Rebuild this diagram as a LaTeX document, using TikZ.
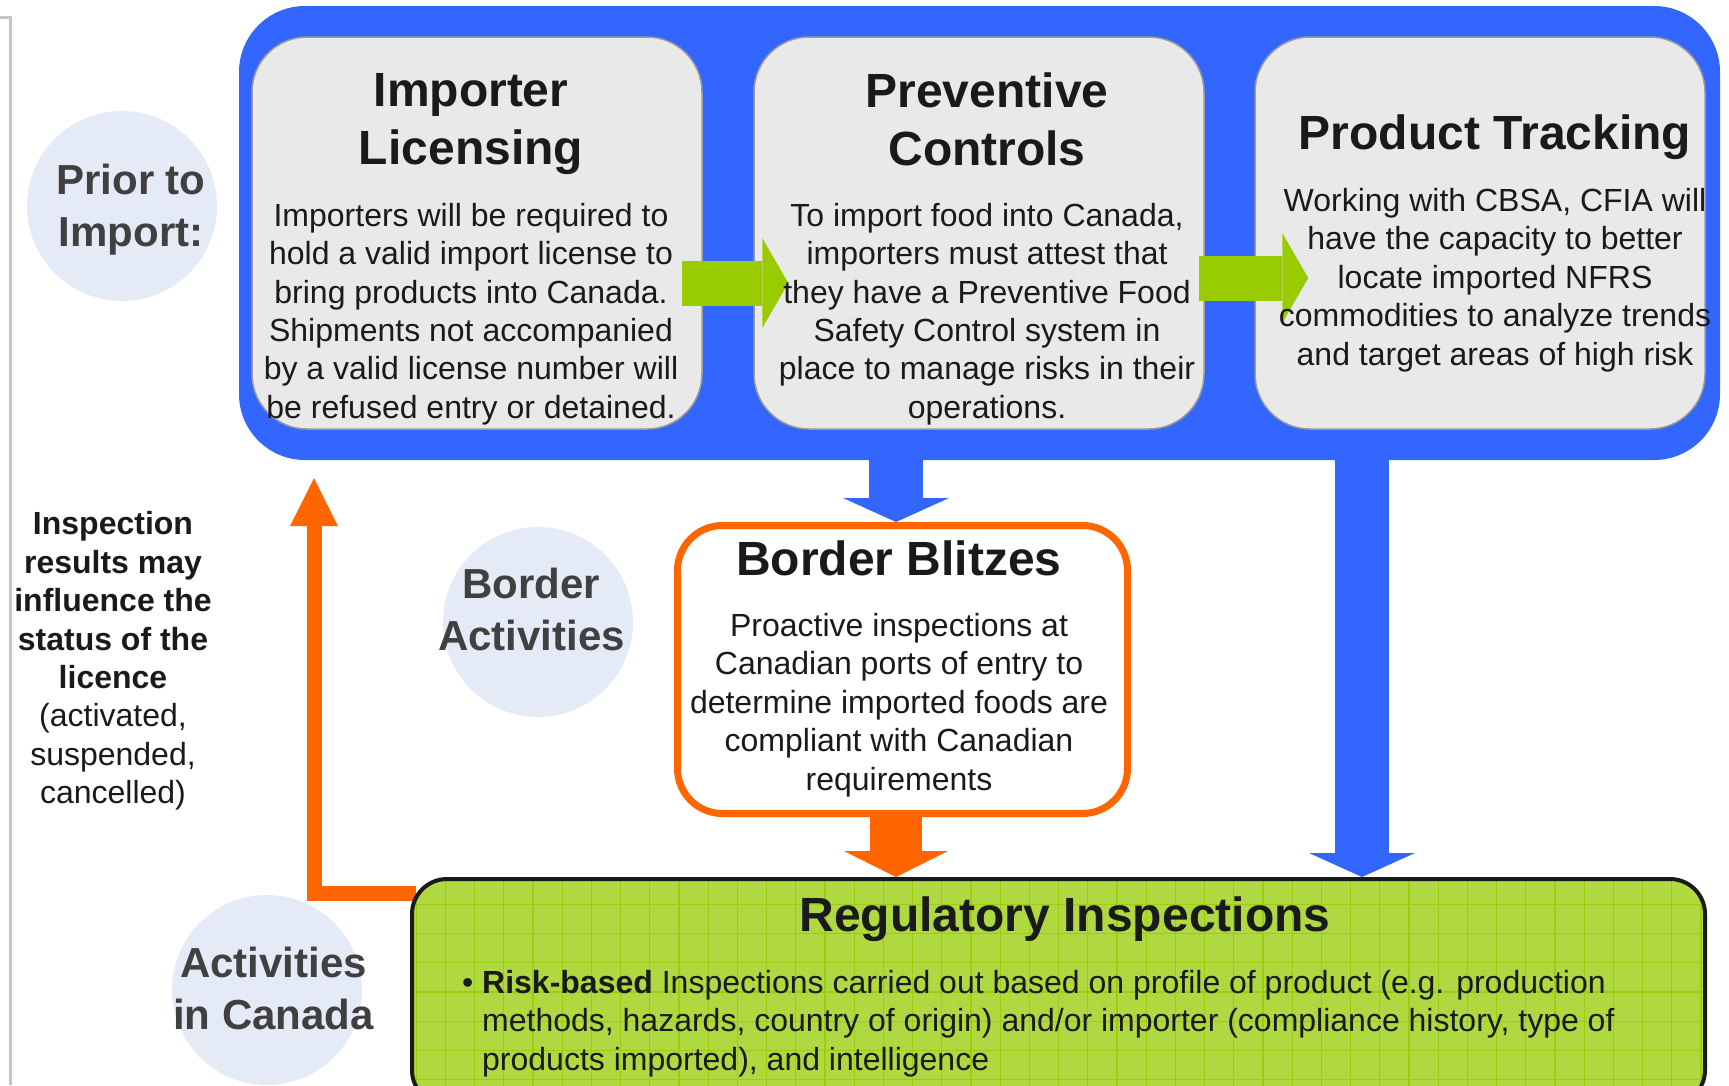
\documentclass[tikz,border=0pt]{standalone}
\usepackage{fontspec}
\setmainfont{Liberation Sans}
\usepackage{xcolor}
\usepackage{tikz}
\usetikzlibrary{arrows.meta, positioning, calc}

\definecolor{cfiablue}{RGB}{51,102,255}
\definecolor{cfiaorange}{RGB}{255,102,0}
\definecolor{cfiagreen}{RGB}{153,204,0}
\definecolor{regfill}{RGB}{176,216,64}
\definecolor{reggrid}{RGB}{156,206,16}
\definecolor{boxgray}{RGB}{233,233,233}
\definecolor{phasefill}{RGB}{229,235,246}
\definecolor{phaseink}{RGB}{64,64,64}
\definecolor{ink}{RGB}{26,26,26}

\begin{document}
\begin{tikzpicture}[x=1pt, y=-1pt,
    phase/.style={circle, fill=phasefill, minimum size=190pt, inner sep=0pt},
    phasetext/.style={inner sep=0pt, text=phaseink, align=center, font=\fontsize{42}{52}\selectfont\bfseries},
    stagebox/.style={draw=gray!80, line width=1.5pt, fill=boxgray, rounded corners=55pt, minimum width=450pt, minimum height=392pt},
    boxtitle/.style={inner sep=0pt, align=center, text=ink, font=\fontsize{48}{58}\selectfont\bfseries},
    boxbody/.style={inner sep=0pt, align=center, text=ink, font=\fontsize{32}{38.4}\selectfont},
    blueflow/.style={cfiablue, line width=54pt, -{Triangle[length=24pt, width=106pt, line width=0pt]}},
    orangeflow/.style={cfiaorange, line width=52pt, -{Triangle[length=26pt, width=104pt, line width=0pt]}},
    greenflow/.style={cfiagreen, line width=45pt, -{Triangle[length=26pt, width=90pt, line width=0pt]}},
    feedback/.style={cfiaorange, line width=15pt, -{Triangle[length=48pt, width=48pt, line width=0pt]}}
]
\clip (0,0) rectangle (1729,1085);
\useasboundingbox (0,0) rectangle (1729,1085);

\draw[gray!45, line width=3pt] (0,17) -- (10,17) -- (10,1085);

% prior to import
\node[fill=cfiablue, rounded corners=66pt, minimum width=1481pt, minimum height=454pt] (pre) at (979.5,233) {};
\node[stagebox] (lic) at (477,233) {};
\node[stagebox] (prev) at (979,233) {};
\node[stagebox] (track) at (1480,233) {};

\draw[greenflow] ([xshift=-21pt,yshift=-50pt]lic.east) -- ([xshift=35pt,yshift=-50pt]prev.west);
\draw[greenflow] ([xshift=-6pt,yshift=-45pt]prev.east) -- ([xshift=54pt,yshift=-45pt]track.west);

\node[boxtitle] (lictitle) at (471,124) {Importer\\Licensing};
\node[boxbody] (licbody) at (471,314) {Importers will be required to\\hold a valid import license to\\bring products into Canada.\\Shipments not accompanied\\by a valid license number will\\be refused entry or detained.};
\node[boxtitle] (prevtitle) at (987,119) {Preventive\\Controls};
\node[boxbody] (prevbody) at (987,314) {To import food into Canada,\\importers must attest that\\they have a Preventive Food\\Safety Control system in\\place to manage risks in their\\operations.};
\node[boxtitle] (tracktitle) at (1495,137) {Product Tracking};
\node[boxbody] (trackbody) at (1495,280) {Working with CBSA, CFIA will\\have the capacity to better\\locate imported NFRS\\commodities to analyze trends\\and target areas of high risk};

% border
\node[draw=cfiaorange, line width=7pt, fill=white, rounded corners=45pt, minimum width=450pt, minimum height=288pt] (blitz) at (902.5,669.5) {};
\draw[blueflow] ([xshift=-6.5pt]blitz.north |- pre.south) -- ([xshift=-6.5pt]blitz.north);
\node[boxtitle] (blitztitle) at (899,558.5) {Border Blitzes};
\node[boxbody] (blitzbody) at (899,705) {Proactive inspections at\\Canadian ports of entry to\\determine imported foods are\\compliant with Canadian\\requirements};

% in canada
\coordinate (tracktap) at (1362,460);
\coordinate (fbtip) at (314,478);
\draw[feedback] (416,893) -| (fbtip);
\node[draw=ink, line width=4pt, fill=regfill, rounded corners=35pt, minimum width=1293pt, minimum height=226pt,
      path picture={\draw[reggrid, line width=1.2pt, step=29.2pt] (path picture bounding box.south west) grid (path picture bounding box.north east);}] (reg) at (1058.5,992) {};
\draw[blueflow] (tracktap) -- (tracktap |- reg.north);
\draw[orangeflow] ([xshift=-6.5pt]blitz.south) -- ([xshift=-6.5pt]blitz.south |- reg.north);
\node[boxtitle] (regtitle) at (1065,919) {Regulatory Inspections};
\node[boxbody, align=left, anchor=west] (regbody) at (482,1023.5) {\llap{\textbullet\ }\textbf{Risk-based} Inspections carried out based on profile of product (e.g. production\\methods, hazards, country of origin) and/or importer (compliance history, type of\\products imported), and intelligence};

% phases
\node[phase] (prior) at (122,206) {};
\node[phasetext] (priortext) at (131,209.5) {Prior to\\Import:};
\node[phase] (border) at (538,622) {};
\node[phasetext] (bordertext) at (531.5,609) {Border\\Activities};
\node[phase] (canada) at (267,990) {};
\node[phasetext] (canadatext) at (273.5,988) {Activities\\in Canada};

\node[boxbody] (status) at (113,661) {\textbf{Inspection}\\\textbf{results may}\\\textbf{influence the}\\\textbf{status of the}\\\textbf{licence}\\(activated,\\suspended,\\cancelled)};

\end{tikzpicture}
\end{document}
